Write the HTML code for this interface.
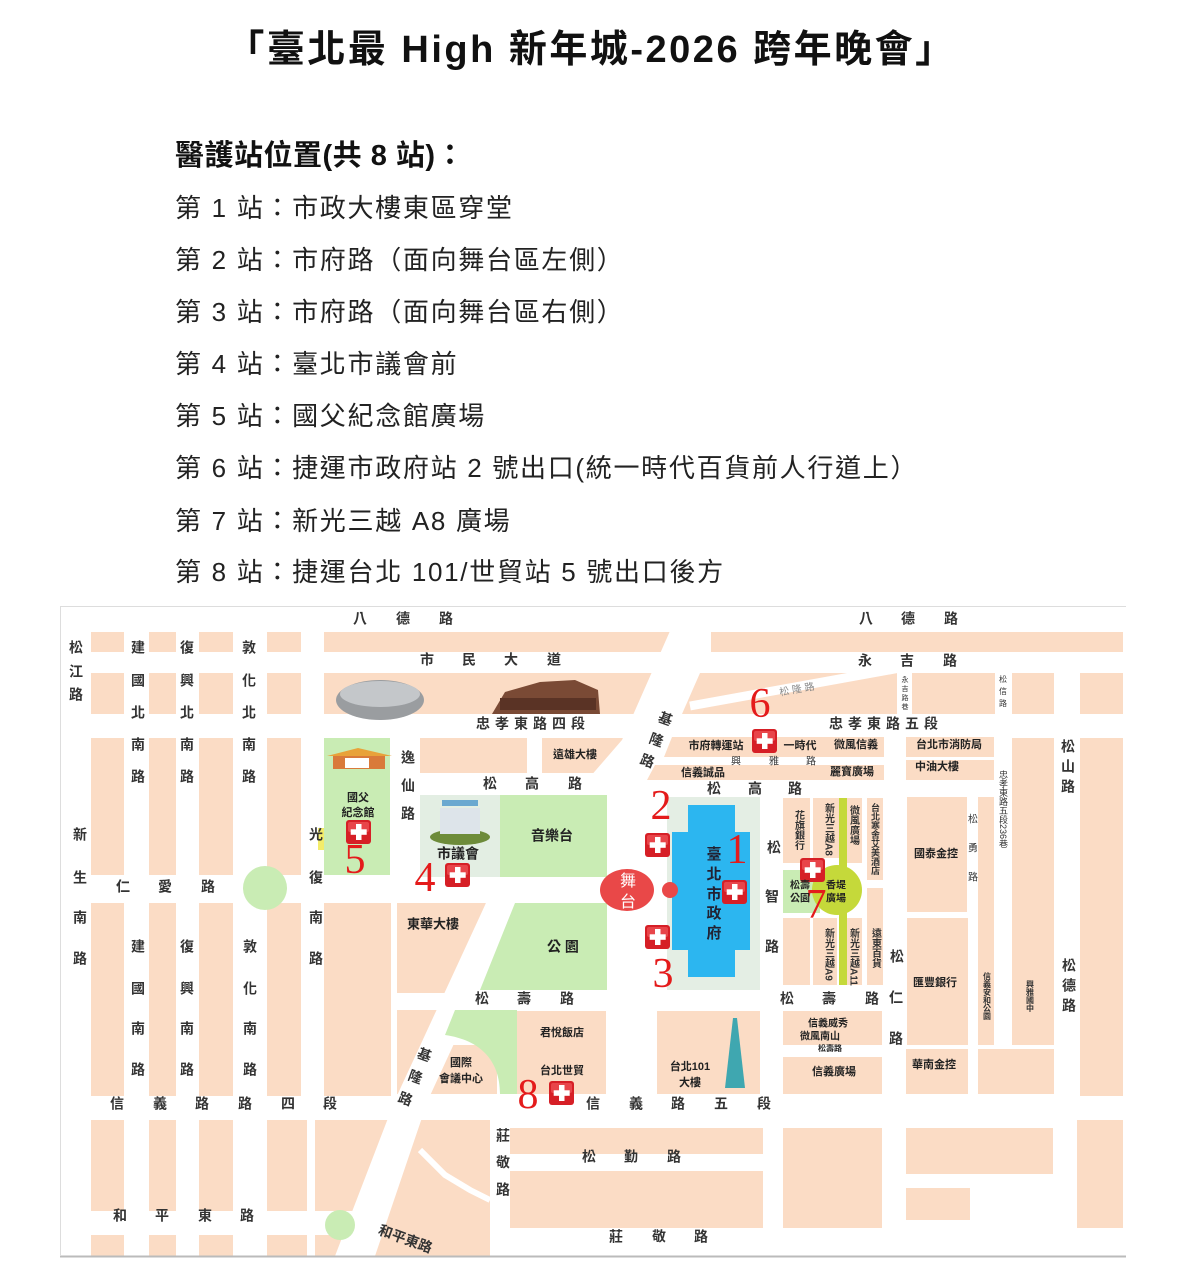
<!DOCTYPE html>
<html><head><meta charset="utf-8">
<style>
html,body{margin:0;padding:0;background:#fff;}
body{width:1182px;height:1268px;position:relative;overflow:hidden;font-family:"Liberation Sans","Noto Sans CJK TC",sans-serif;color:#111;}
.t{position:absolute;white-space:nowrap;}
h1{position:absolute;left:0;width:1182px;top:18px;margin:0;text-align:center;font-size:38px;font-weight:bold;letter-spacing:2.5px;}
.h2{left:175px;top:132px;font-size:29px;font-weight:bold;letter-spacing:0.5px;}
.li{left:175px;font-size:26px;color:#222;letter-spacing:1.7px;}
svg{position:absolute;left:0;top:0;}
</style></head><body>
<h1>「臺北最 High 新年城-2026 跨年晚會」</h1>
<div class="t h2">醫護站位置(共 8 站)：</div>
<div class="t li" style="top:188px">第 1 站：市政大樓東區穿堂</div>
<div class="t li" style="top:240px">第 2 站：市府路（面向舞台區左側）</div>
<div class="t li" style="top:292px">第 3 站：市府路（面向舞台區右側）</div>
<div class="t li" style="top:344px">第 4 站：臺北市議會前</div>
<div class="t li" style="top:396px">第 5 站：國父紀念館廣場</div>
<div class="t li" style="top:448px">第 6 站：捷運市政府站 2 號出口(統一時代百貨前人行道上）</div>
<div class="t li" style="top:501px">第 7 站：新光三越 A8 廣場</div>
<div class="t li" style="top:552px">第 8 站：捷運台北 101/世貿站 5 號出口後方</div>

<svg width="1182" height="1268" viewBox="0 0 1182 1268" font-family="Liberation Sans, Noto Sans CJK TC, sans-serif">
<defs>
<g id="cr"><rect x="0" y="0" width="25" height="24" rx="3" fill="#d61f26"/><rect x="2" y="2" width="21" height="10" rx="2" fill="#e8454a"/><rect x="10" y="4" width="5.5" height="16" fill="#fff"/><rect x="4.7" y="9.3" width="16" height="5.5" fill="#fff"/></g>
</defs>
<g fill="#fbdcc5">
<rect x="91" y="632" width="33" height="20"/><rect x="149" y="632" width="27" height="20"/><rect x="199" y="632" width="34" height="20"/><rect x="267" y="632" width="34" height="20"/>
<rect x="91" y="673" width="33" height="41"/><rect x="149" y="673" width="27" height="41"/><rect x="199" y="673" width="34" height="41"/><rect x="267" y="673" width="34" height="41"/>
<rect x="91" y="738" width="33" height="137"/><rect x="149" y="738" width="27" height="137"/><rect x="199" y="738" width="34" height="137"/><rect x="267" y="738" width="34" height="137"/>
<rect x="91" y="903" width="33" height="193"/><rect x="149" y="903" width="27" height="193"/><rect x="199" y="903" width="34" height="193"/><rect x="267" y="903" width="34" height="193"/>
<rect x="91" y="1120" width="33" height="91"/><rect x="149" y="1120" width="27" height="91"/><rect x="199" y="1120" width="34" height="91"/><rect x="267" y="1120" width="40" height="91"/>
<rect x="91" y="1235" width="33" height="21"/><rect x="149" y="1235" width="27" height="21"/><rect x="199" y="1235" width="34" height="21"/><rect x="267" y="1235" width="40" height="21"/>
<polygon points="315,1120 392,1120 355,1211 315,1211"/>
<polygon points="315,1235 345,1235 338,1256 315,1256"/>
<rect x="324" y="632" width="357" height="20"/><rect x="711" y="632" width="412" height="20"/>
<polygon points="324,673 672,673 652,714 324,714"/>
<polygon points="700,673 897,673 897,714 682,714"/>
<rect x="912" y="673" width="83" height="41"/><rect x="1012" y="673" width="42" height="41"/><rect x="1080" y="673" width="43" height="41"/>
<rect x="420" y="738" width="107" height="35"/>
<polygon points="542,738 638,738 622,773 542,773"/>
<polygon points="672,737 884,737 884,757 664,757"/>
<polygon points="655,765 884,765 884,780 647,780"/>
<rect x="783" y="798" width="27" height="65"/><rect x="813" y="798" width="26" height="60"/><rect x="847" y="798" width="15" height="65"/><rect x="867" y="798" width="16" height="82"/>
<rect x="783" y="918" width="27" height="67"/><rect x="813" y="918" width="24" height="67"/><rect x="847" y="918" width="15" height="67"/><rect x="867" y="888" width="16" height="97"/>
<rect x="906" y="737" width="88" height="20"/><rect x="906" y="760" width="88" height="20"/>
<rect x="907" y="797" width="60" height="115"/><rect x="907" y="918" width="61" height="127"/>
<rect x="978" y="797" width="16" height="248"/><rect x="1012" y="738" width="42" height="307"/><rect x="1080" y="738" width="43" height="358"/>
<rect x="906" y="1049" width="62" height="45"/><rect x="978" y="1049" width="76" height="45"/>
<rect x="324" y="903" width="67" height="193"/>
<polygon points="397,903 486,903 449,993 397,993"/>
<polygon points="397,1010 442,1010 410,1094 397,1094"/>
<rect x="422" y="1045" width="75" height="49"/>
<rect x="517" y="1011" width="89" height="83"/>
<rect x="657" y="1011" width="103" height="83"/>
<rect x="783" y="1011" width="99" height="34"/><rect x="783" y="1057" width="99" height="37"/>
<polygon points="398,1120 490,1120 490,1256 360,1256 365,1220"/>
<rect x="510" y="1128" width="253" height="26"/><rect x="510" y="1171" width="253" height="57"/>
<rect x="783" y="1128" width="99" height="100"/><rect x="906" y="1128" width="147" height="46"/><rect x="906" y="1188" width="64" height="32"/>
<rect x="1077" y="1120" width="46" height="108"/>
</g>
<polygon points="681,606 711,606 650,740 525,890 428,1100 375,1256 335,1256 395,1100 492,890 622,740" fill="#fff"/>
<polyline points="420,1150 445,1175 470,1190 490,1200" stroke="#fff" stroke-width="6" fill="none"/>
<line x1="690" y1="706" x2="900" y2="668" stroke="#fff" stroke-width="9"/>
<rect x="897" y="673" width="15" height="41" fill="#fff"/>
<rect x="324" y="738" width="66" height="137" fill="#c9ecb4"/>
<rect x="318" y="828" width="6" height="22" fill="#f3ec6a"/>
<rect x="420" y="795" width="80" height="82" fill="#e3eee3"/>
<rect x="500" y="795" width="107" height="82" fill="#c9ecb4"/>
<polygon points="515,903 607,903 607,990 480,990" fill="#c9ecb4"/>
<path d="M455,1010 L517,1010 L517,1094 L500,1094 C500,1060 480,1040 445,1035 Z" fill="#c9ecb4"/>
<circle cx="265" cy="888" r="22" fill="#c9ecb4"/>
<circle cx="340" cy="1225" r="15" fill="#c9ecb4"/>
<rect x="667" y="797" width="93" height="193" fill="#e4eee4"/>
<polygon points="688,805 735,805 735,832 750,832 750,950 735,950 735,977 688,977 688,950 672,950 672,832 688,832" fill="#2cb6f0"/>
<rect x="783" y="870" width="37" height="43" fill="#c9ecb4"/>
<rect x="839" y="798" width="8" height="187" fill="#c5d93a"/>
<circle cx="837" cy="890" r="25" fill="#c5d93a"/>
<ellipse cx="627" cy="890" rx="27" ry="21" fill="#e94848"/>
<circle cx="670" cy="890" r="8" fill="#e94848"/>
<ellipse cx="380" cy="700" rx="44" ry="20" fill="#9a9da0"/><ellipse cx="380" cy="694" rx="40" ry="13" fill="#c4c7ca"/>
<polygon points="492,714 600,714 598,690 575,680 540,682 505,692" fill="#7a4a35"/><rect x="500" y="698" width="96" height="12" fill="#5a3325"/>
<rect x="333" y="755" width="52" height="14" fill="#d97a3a"/><polygon points="327,756 358,748 392,756" fill="#e8a23a"/><rect x="345" y="758" width="24" height="10" fill="#fff"/>
<ellipse cx="460" cy="837" rx="30" ry="8" fill="#6d8b3a"/><rect x="440" y="808" width="40" height="26" fill="#dde4ea"/><rect x="442" y="800" width="36" height="6" fill="#6aa8d0"/>
<polygon points="733,1018 737,1018 745,1088 725,1088" fill="#3fa7b0"/>
<line x1="60" y1="606.5" x2="1126" y2="606.5" stroke="#ddd"/>
<line x1="60" y1="1256.5" x2="1126" y2="1256.5" stroke="#bbb" stroke-width="2"/>
<line x1="60.5" y1="606" x2="60.5" y2="1256" stroke="#ddd"/>

<use href="#cr" x="752" y="729"/><use href="#cr" x="645" y="833"/><use href="#cr" x="722" y="880"/>
<use href="#cr" x="346" y="820"/><use href="#cr" x="445" y="863"/><use href="#cr" x="800" y="858"/>
<use href="#cr" x="645" y="925"/><use href="#cr" x="549" y="1081"/>
<g fill="#e41b1b" font-family="Liberation Serif, serif" font-size="42" text-anchor="middle">
<text x="760" y="717">6</text><text x="661" y="819">2</text><text x="737" y="863">1</text><text x="355" y="873">5</text>
<text x="425" y="891">4</text><text x="816" y="918">7</text><text x="663" y="987">3</text><text x="528" y="1108">8</text>
</g>
<g fill="#333" font-size="14" font-weight="bold" text-anchor="middle" dominant-baseline="middle">
<text x="360" y="620">八</text><text x="403" y="620">德</text><text x="446" y="620">路</text>
<text x="866" y="620">八</text><text x="908" y="620">德</text><text x="951" y="620">路</text>
<text x="76" y="649">松</text><text x="76" y="673">江</text><text x="76" y="696">路</text>
<text x="138" y="649">建</text><text x="138" y="682">國</text><text x="138" y="714">北</text><text x="138" y="746">南</text><text x="138" y="778">路</text>
<text x="187" y="649">復</text><text x="187" y="682">興</text><text x="187" y="714">北</text><text x="187" y="746">南</text><text x="187" y="778">路</text>
<text x="249" y="649">敦</text><text x="249" y="682">化</text><text x="249" y="714">北</text><text x="249" y="746">南</text><text x="249" y="778">路</text>
<text x="427" y="661">市</text><text x="469" y="661">民</text><text x="511" y="661">大</text><text x="554" y="661">道</text>
<text x="865" y="662">永</text><text x="907" y="662">吉</text><text x="950" y="662">路</text>
<text x="533" y="725" letter-spacing="5">忠孝東路四段</text>
<text x="886" y="725" letter-spacing="5">忠孝東路五段</text>
<text x="408" y="759">逸</text><text x="408" y="787">仙</text><text x="408" y="815">路</text>
<text x="490" y="785">松</text><text x="532" y="785">高</text><text x="575" y="785">路</text>
<text x="714" y="790">松</text><text x="755" y="790">高</text><text x="795" y="790">路</text>
<text x="316" y="836">光</text><text x="316" y="879">復</text><text x="316" y="919">南</text><text x="316" y="960">路</text>
<text x="80" y="836">新</text><text x="80" y="879">生</text><text x="80" y="919">南</text><text x="80" y="960">路</text>
<text x="123" y="888">仁</text><text x="165" y="888">愛</text><text x="208" y="888">路</text>
<text x="138" y="948">建</text><text x="138" y="990">國</text><text x="138" y="1030">南</text><text x="138" y="1071">路</text>
<text x="187" y="948">復</text><text x="187" y="990">興</text><text x="187" y="1030">南</text><text x="187" y="1071">路</text>
<text x="250" y="948">敦</text><text x="250" y="990">化</text><text x="250" y="1030">南</text><text x="250" y="1071">路</text>
<text x="117" y="1105">信</text><text x="160" y="1105">義</text><text x="202" y="1105">路</text><text x="245" y="1105">路</text><text x="288" y="1105">四</text><text x="330" y="1105">段</text>
<text x="593" y="1105">信</text><text x="636" y="1105">義</text><text x="678" y="1105">路</text><text x="721" y="1105">五</text><text x="764" y="1105">段</text>
<text x="665" y="720" transform="rotate(20 665 720)">基</text><text x="656" y="741" transform="rotate(20 656 741)">隆</text><text x="647" y="762" transform="rotate(20 647 762)">路</text>
<text x="424" y="1056" transform="rotate(20 424 1056)">基</text><text x="415" y="1078" transform="rotate(20 415 1078)">隆</text><text x="405" y="1100" transform="rotate(20 405 1100)">路</text>
<text x="482" y="1000">松</text><text x="524" y="1000">壽</text><text x="567" y="1000">路</text>
<text x="787" y="1000">松</text><text x="829" y="1000">壽</text><text x="872" y="1000">路</text><text x="896" y="999">仁</text>
<text x="897" y="958">松</text><text x="896" y="1040">路</text>
<text x="774" y="849">松</text><text x="772" y="898">智</text><text x="772" y="948">路</text>
<text x="1068" y="748">松</text><text x="1068" y="768">山</text><text x="1068" y="788">路</text>
<text x="1069" y="967">松</text><text x="1069" y="987">德</text><text x="1069" y="1007">路</text>
<text x="589" y="1158">松</text><text x="631" y="1158">勤</text><text x="674" y="1158">路</text>
<text x="503" y="1137">莊</text><text x="503" y="1164">敬</text><text x="503" y="1191">路</text>
<text x="616" y="1238">莊</text><text x="659" y="1238">敬</text><text x="701" y="1238">路</text>
<text x="120" y="1217">和</text><text x="162" y="1217">平</text><text x="205" y="1217">東</text><text x="247" y="1217">路</text>
<text x="405" y="1240" transform="rotate(20 405 1240)">和平東路</text>
</g>
<g fill="#333" font-size="10" text-anchor="middle" dominant-baseline="middle">
<text x="797" y="690" transform="rotate(-10 797 690)" fill="#888">松 隆 路</text>
<text x="973" y="820">松</text><text x="973" y="849">勇</text><text x="973" y="878">路</text>
<text x="736" y="762">興</text><text x="774" y="762">雅</text><text x="811" y="762">路</text>
<text x="1003" y="680" font-size="8">松</text><text x="1003" y="692" font-size="8">信</text><text x="1003" y="704" font-size="8">路</text>
<text x="905" y="680" font-size="7">永</text><text x="905" y="689" font-size="7">吉</text><text x="905" y="698" font-size="7">路</text><text x="905" y="707" font-size="7">巷</text>
</g>
<text x="1003" y="770" font-size="9" fill="#333" style="writing-mode:vertical-rl" >忠孝東路五段236巷</text>
<g fill="#222" font-size="11" font-weight="bold" text-anchor="middle" dominant-baseline="middle">
<text x="575" y="755">遠雄大樓</text><text x="716" y="746">市府轉運站</text><text x="800" y="746">一時代</text><text x="856" y="745">微風信義</text>
<text x="703" y="773">信義誠品</text><text x="852" y="772">麗寶廣場</text><text x="949" y="745">台北市消防局</text><text x="937" y="767">中油大樓</text>
<text x="358" y="798">國父</text><text x="358" y="813">紀念館</text>
<text x="458" y="855" font-size="14">市議會</text><text x="552" y="837" font-size="14">音樂台</text>
<text x="936" y="854">國泰金控</text><text x="800" y="886" font-size="10">松壽</text><text x="800" y="899" font-size="10">公園</text>
<text x="836" y="886" font-size="10">香堤</text><text x="836" y="899" font-size="10">廣場</text>
<text x="433" y="925" font-size="13">東華大樓</text><text x="563" y="948" font-size="14">公 園</text>
<text x="562" y="1033">君悅飯店</text><text x="461" y="1063">國際</text><text x="461" y="1079">會議中心</text>
<text x="562" y="1071">台北世貿</text><text x="690" y="1067">台北101</text><text x="690" y="1083">大樓</text>
<text x="828" y="1024" font-size="10">信義威秀</text><text x="820" y="1037" font-size="10">微風南山</text><text x="830" y="1049" font-size="8">松壽路</text>
<text x="834" y="1072">信義廣場</text><text x="935" y="983">匯豐銀行</text><text x="934" y="1065">華南金控</text>
</g>
<g fill="#fff" font-size="16" text-anchor="middle"><text x="628" y="886">舞</text><text x="628" y="907">台</text></g>
<g fill="#223" font-size="15" font-weight="bold" text-anchor="middle"><text x="714" y="859">臺</text><text x="714" y="879">北</text><text x="714" y="899">市</text><text x="714" y="918">政</text><text x="714" y="938">府</text></g>
<g fill="#333" font-size="10" font-weight="bold" style="writing-mode:vertical-rl">
<text x="798" y="810">花旗銀行</text><text x="828" y="803">新光三越A8</text><text x="853" y="805">微風廣場</text><text x="875" y="803" font-size="9">台北寒舍艾美酒店</text>
<text x="828" y="928">新光三越A9</text><text x="853" y="928">新光三越A11</text><text x="875" y="928">遠東百貨</text>
<text x="987" y="972" font-size="8">信義安和公園</text><text x="1030" y="980" font-size="8">興雅國中</text>
</g>
</svg>
</body></html>
